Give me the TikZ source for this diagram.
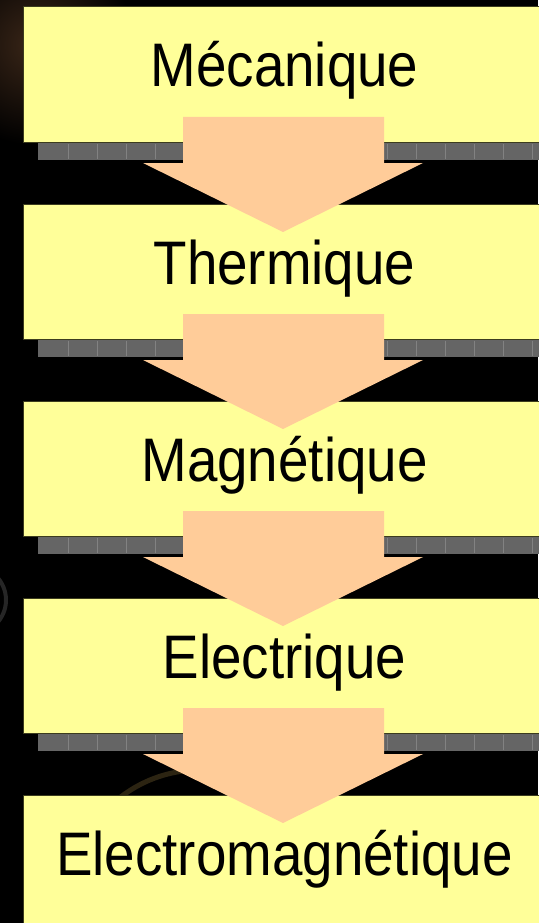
\documentclass[tikz,border=0pt]{standalone}
\usepackage{fontspec}
\setmainfont{Liberation Sans}[FakeStretch=0.89]
\usepackage{tikz}
\usetikzlibrary{positioning, shadows}
\definecolor{FigYellow}{HTML}{FFFF99}
\definecolor{FigEdge}{HTML}{3C3C1E}
\definecolor{FigPeach}{HTML}{FFCC99}
\definecolor{FigGray}{HTML}{656565}
\definecolor{FigGrayLine}{HTML}{828282}
\definecolor{FigBrown}{HTML}{3A2618}
\definecolor{FigGlow}{HTML}{2C2412}
\definecolor{FigRing}{HTML}{262626}

\begin{document}
\begin{tikzpicture}[
  x=1pt, y=1pt,
  node distance=62pt,
  ebox/.style={draw=FigEdge, fill=FigYellow, line width=1pt, outer sep=0pt, inner sep=0pt, minimum width=523pt, minimum height=135pt, text height=45pt, text depth=20pt, font=\fontsize{61.5}{70}\selectfont, general shadow={fill=FigGray, shadow xshift=15pt, shadow yshift=-18pt}},
  barrow/.style={fill=FigPeach},
  tick/.style={draw=FigGrayLine, line width=0.6pt}
]
% background
\useasboundingbox (0,0) rectangle (538,-923);
\fill[black] (0,0) rectangle (538,-923);
\shade[inner color=FigBrown, outer color=black] (35,-45) circle (100);
\draw[FigRing, line width=4pt] (-28,-600) circle (34);
\draw[FigGlow, line width=5pt] (200,-900) circle (130);

\node[ebox] (meca) at (284.5,-74.5) {Mécanique};
\node[ebox, below=of meca] (therm) {Thermique};
\node[ebox, below=of therm] (magn) {Magnétique};
\node[ebox, below=of magn] (elec) {Electrique};
\node[ebox, below=of elec] (emag) {Electromagnétique};

% shadow texture
\foreach \b in {meca, therm, magn, elec}
  \foreach \k in {0,...,16}
    \draw[tick] ([xshift={45+29*\k}, yshift=-1.5pt]\b.south west) -- ++(0,-15);

% block arrows
\foreach \a/\b in {meca/therm, therm/magn, magn/elec, elec/emag}
  \fill[barrow] ([xshift=-101.5pt, yshift=25pt]\a.south) -- ([xshift=99.5pt, yshift=25pt]\a.south)
    -- ([xshift=99.5pt, yshift=-21pt]\a.south) -- ([xshift=138.5pt, yshift=-21pt]\a.south)
    -- ([xshift=-1.5pt, yshift=-28pt]\b.north)
    -- ([xshift=-141.5pt, yshift=-21pt]\a.south) -- ([xshift=-101.5pt, yshift=-21pt]\a.south) -- cycle;
\end{tikzpicture}
\end{document}
